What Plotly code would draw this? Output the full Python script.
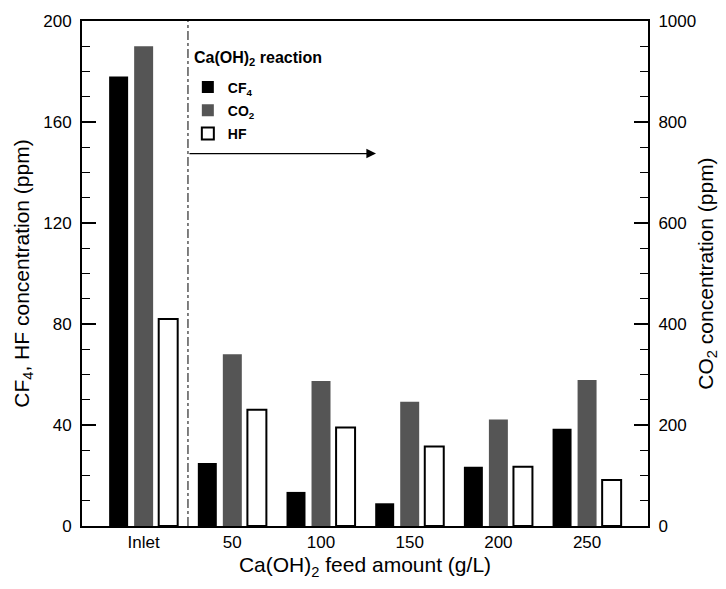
import plotly.graph_objects as go

categories = ["Inlet", "50", "100", "150", "200", "250"]
cf4 = [178, 25, 13.5, 9, 23.5, 38.5]
co2 = [950, 340, 287, 246, 211, 289]
hf = [82, 46, 39, 31.5, 23.5, 18.2]

xpos = list(range(len(categories)))
FONT = "Liberation Sans, Arial, sans-serif"

fig = go.Figure()
bw = 0.214
fig.add_trace(go.Bar(x=xpos, y=cf4, name="<b>CF<sub>4</sub></b>", width=bw, offset=-0.389,
                     legendgroup="a",
                     marker=dict(color="black", line=dict(width=0)), yaxis="y"))
fig.add_trace(go.Bar(x=xpos, y=co2, name="<b>CO<sub>2</sub></b>", width=bw, offset=-0.107,
                     legendgroup="b",
                     marker=dict(color="#555555", line=dict(width=0)), yaxis="y2"))
fig.add_trace(go.Bar(x=xpos, y=hf, name="<b>HF</b>", width=bw, offset=0.17,
                     legendgroup="c",
                     marker=dict(color="white", line=dict(color="black", width=2)), yaxis="y"))

# reaction boundary line
fig.add_shape(type="line", xref="x", yref="paper", x0=0.5, x1=0.5, y0=0, y1=1,
              line=dict(color="black", width=1, dash="dashdot"))
# arrow
fig.add_annotation(x=2.62, y=147.5, ax=0.5, ay=147.5, xref="x", yref="y", axref="x", ayref="y",
                   text="", showarrow=True, arrowhead=2, arrowsize=1.6, arrowwidth=1.2,
                   arrowcolor="black")
# legend heading
fig.add_annotation(x=0.194, y=0.926, xref="paper", yref="paper", xanchor="left", yanchor="middle",
                   text="<b>Ca(OH)<sub>2</sub> reaction</b>", showarrow=False,
                   font=dict(size=16, family=FONT, color="black"))

fig.update_layout(
    width=726, height=589,
    margin=dict(l=82, r=78, t=16, b=63),
    paper_bgcolor="white", plot_bgcolor="white",
    font=dict(family=FONT, size=17, color="black"),
    barmode="overlay",
    showlegend=True,
    legend=dict(
        x=0.187, y=0.9, xanchor="left", yanchor="top",
        font=dict(size=14, family=FONT),
        bgcolor="rgba(0,0,0,0)", tracegroupgap=2, itemwidth=30,
        traceorder="grouped",
    ),
    xaxis=dict(
        range=[-0.695, 5.687], tickvals=xpos, ticktext=categories,
        showline=True, linecolor="black", linewidth=2, mirror=True,
        ticks="", showgrid=False, zeroline=False,
        title=dict(text="Ca(OH)<sub>2</sub> feed amount (g/L)", font=dict(size=21), standoff=6),
        tickfont=dict(size=17),
    ),
    yaxis=dict(
        range=[0, 200], tickvals=[0, 40, 80, 120, 160, 200],
        showline=True, linecolor="black", linewidth=2,
        ticks="inside", ticklen=14, tickwidth=1.5, tickcolor="black",
        minor=dict(dtick=10, ticks="inside", ticklen=8, tickwidth=1, tickcolor="black"),
        showgrid=False, zeroline=False, ticklabelstandoff=5,
        title=dict(text="CF<sub>4</sub>, HF concentration (ppm)", font=dict(size=21), standoff=8),
        tickfont=dict(size=17),
    ),
    yaxis2=dict(
        range=[0, 1000], tickvals=[0, 200, 400, 600, 800, 1000],
        overlaying="y", side="right",
        showline=True, linecolor="black", linewidth=2,
        ticks="inside", ticklen=14, tickwidth=1.5, tickcolor="black",
        minor=dict(dtick=50, ticks="inside", ticklen=8, tickwidth=1, tickcolor="black"),
        showgrid=False, zeroline=False, ticklabelstandoff=5,
        title=dict(text="CO<sub>2</sub> concentration (ppm)", font=dict(size=21), standoff=3),
        tickfont=dict(size=17),
    ),
)

fig.write_html("out.html")
